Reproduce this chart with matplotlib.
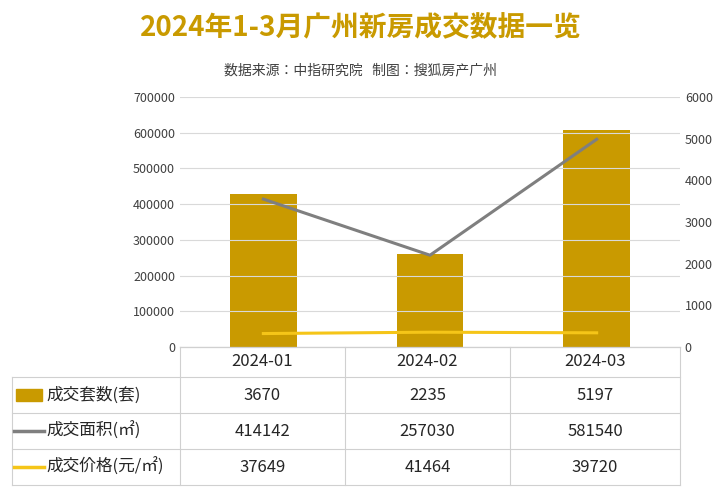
import matplotlib.pyplot as plt
from matplotlib.lines import Line2D
from matplotlib.patches import Rectangle

plt.rcParams['font.family'] = ['Noto Sans CJK JP', 'Noto Sans CJK SC', 'DejaVu Sans']

months = ['2024-01', '2024-02', '2024-03']
units = [3670, 2235, 5197]
area = [414142, 257030, 581540]
price = [37649, 41464, 39720]
series_names = ['成交套数(套)', '成交面积(㎡)', '成交价格(元/㎡)']

gold = '#C99A00'
grey = '#7F7F7F'
yellow = '#F5C518'

W, H = 721, 493
fig = plt.figure(figsize=(7.21, 4.93), dpi=100)

def fx(px):
    return px / W

def fy(py):
    return 1 - py / H

ax = fig.add_axes([fx(180), fy(347), fx(680) - fx(180), fy(97) - fy(347)])
ax2 = ax.twinx()
x = range(len(months))
ax.grid(axis='y', color='#D9D9D9', lw=0.8, zorder=0)
ax2.bar(x, units, width=0.4, color=gold, zorder=2)
ax.plot(x, area, color=grey, lw=2.2, zorder=3)
ax.plot(x, price, color=yellow, lw=2.2, zorder=3)
ax2.set_zorder(ax.get_zorder() - 1)
ax.patch.set_visible(False)
ax2.patch.set_visible(False)

ax.set_xlim(-0.5, 2.5)
ax.set_ylim(0, 700000)
ax2.set_ylim(0, 6000)
ax.set_yticks(range(0, 700001, 100000))
ax2.set_yticks(range(0, 6001, 1000))
ax.set_xticks([])
for a in (ax, ax2):
    for s in a.spines.values():
        s.set_visible(False)
    a.tick_params(length=0, labelsize=9, colors='#404040')
ax.spines['bottom'].set_visible(True)
ax.spines['bottom'].set_color('#BFBFBF')

fig.text(0.5, fy(28), '2024年1-3月广州新房成交数据一览', ha='center', va='center',
         fontsize=20, fontweight='bold', color=gold)
fig.text(0.5, fy(70), '数据来源：中指研究院   制图：搜狐房产广州', ha='center', va='center',
         fontsize=10, color='#404040')

# table
cols = [12, 180, 345, 510, 680]
rows = [347, 377, 413, 449, 485]
lc = '#D0D0D0'
for i, cx in enumerate(cols):
    top = rows[0] if i > 0 else rows[1]
    fig.add_artist(Line2D([fx(cx)] * 2, [fy(top), fy(rows[-1])], color=lc, lw=0.8))
for i, ry in enumerate(rows):
    left = cols[0] if i > 0 else cols[1]
    fig.add_artist(Line2D([fx(left), fx(cols[-1])], [fy(ry)] * 2, color=lc, lw=0.8))
for j, m in enumerate(months):
    cx = (cols[j + 1] + cols[j + 2]) / 2
    fig.text(fx(cx), fy((rows[0] + rows[1]) / 2), m, ha='center', va='center',
             fontsize=12, color='#262626')
table_vals = [units, area, price]
for r, (name, vals) in enumerate(zip(series_names, table_vals)):
    cy = fy((rows[r + 1] + rows[r + 2]) / 2)
    if r == 0:
        fig.add_artist(Rectangle((fx(16), cy - 0.012), fx(26), 0.024, color=gold))
    else:
        fig.add_artist(Line2D([fx(14), fx(44)], [cy, cy], lw=2.5,
                              color=grey if r == 1 else yellow))
    fig.text(fx(46), cy, name, ha='left', va='center', fontsize=12, color='#262626')
    for j, v in enumerate(vals):
        cx = (cols[j + 1] + cols[j + 2]) / 2
        fig.text(fx(cx), cy, str(v), ha='center', va='center', fontsize=12, color='#262626')

fig.savefig('out.png', dpi=100, facecolor='white')
